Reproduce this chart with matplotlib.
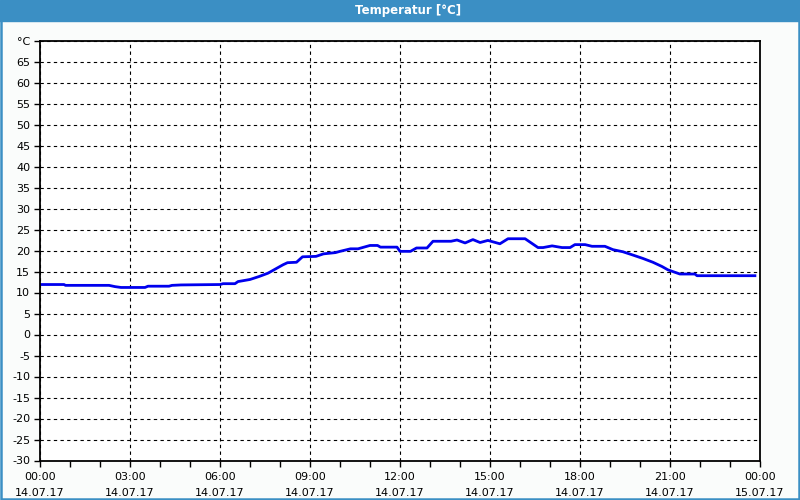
import matplotlib.pyplot as plt
from matplotlib.patches import Rectangle
from matplotlib.ticker import MultipleLocator

# Temperaturverlauf 14.07.17 (Stunden seit 00:00, °C)
stunden = [0.0, 0.8, 0.85, 2.3, 2.5, 2.7, 3.5, 3.6, 4.3, 4.4, 4.7, 6.0, 6.1,
           6.5, 6.6, 7.0, 7.3, 7.6, 7.85, 8.1, 8.25, 8.55, 8.75, 9.2, 9.45,
           9.85, 10.0, 10.35, 10.6, 10.9, 11.0, 11.25, 11.35, 11.9, 12.0,
           12.35, 12.55, 12.9, 13.1, 13.7, 13.9, 14.17, 14.43, 14.67, 14.93,
           15.33, 15.6, 16.17, 16.6, 16.77, 17.07, 17.4, 17.67, 17.83, 18.17,
           18.4, 18.83, 19.1, 19.43, 19.77, 20.1, 20.43, 20.73, 20.93, 21.33,
           21.83, 21.9, 23.83]
temperatur = [11.9, 11.9, 11.7, 11.7, 11.4, 11.2, 11.2, 11.5, 11.5, 11.7,
              11.8, 11.9, 12.1, 12.1, 12.6, 13.1, 13.8, 14.6, 15.6, 16.6,
              17.1, 17.2, 18.5, 18.6, 19.2, 19.5, 19.8, 20.4, 20.4, 21.0,
              21.2, 21.2, 20.8, 20.8, 19.8, 19.8, 20.6, 20.6, 22.2, 22.2,
              22.5, 21.8, 22.6, 21.9, 22.4, 21.6, 22.8, 22.8, 20.7, 20.7,
              21.1, 20.7, 20.7, 21.4, 21.4, 21.0, 21.0, 20.2, 19.7, 18.9,
              18.1, 17.2, 16.2, 15.4, 14.4, 14.4, 14.0, 14.0]

x_ticks = [0, 3, 6, 9, 12, 15, 18, 21, 24]
x_labels = ["00:00\n14.07.17", "03:00\n14.07.17", "06:00\n14.07.17",
            "09:00\n14.07.17", "12:00\n14.07.17", "15:00\n14.07.17",
            "18:00\n14.07.17", "21:00\n14.07.17", "00:00\n15.07.17"]
y_ticks = list(range(-30, 71, 5))
y_labels = [str(v) for v in y_ticks[:-1]] + ["°C"]

blau = "#3b8fc4"

fig = plt.figure(figsize=(8, 5), dpi=100, facecolor="#fafcfb")
ax = fig.add_axes([0.05, 0.079, 0.9, 0.84])

ax.plot(stunden, temperatur, color="#0000ee", linewidth=2.0)

ax.set_xlim(0, 24)
ax.set_ylim(-30, 70)
ax.set_xticks(x_ticks)
ax.set_xticklabels(x_labels, fontsize=8, linespacing=1.75)
ax.xaxis.set_minor_locator(MultipleLocator(1))
ax.set_yticks(y_ticks)
ax.set_yticklabels(y_labels, fontsize=8)
ax.tick_params(axis="both", which="both", direction="out", length=4, width=1,
               colors="black", pad=3)
ax.tick_params(axis="x", pad=4)
ax.grid(True, which="major", color="black", linestyle=(0, (3, 3)), linewidth=0.8)
for s in ax.spines.values():
    s.set_linewidth(1.3)
ax.set_facecolor("white")

# Titelleiste und Rahmen
fig.patches.append(Rectangle((0, 0.959), 1, 0.041, transform=fig.transFigure,
                             color=blau, zorder=0))
fig.patches.append(Rectangle((0.001, 0.002), 0.998, 0.996, transform=fig.transFigure,
                             fill=False, edgecolor=blau, linewidth=1.8, zorder=1))
fig.text(0.51, 0.979, "Temperatur [°C]", color="white", fontsize=8.5,
         fontweight="bold", ha="center", va="center")

fig.savefig("out.png", dpi=100, facecolor=fig.get_facecolor())
